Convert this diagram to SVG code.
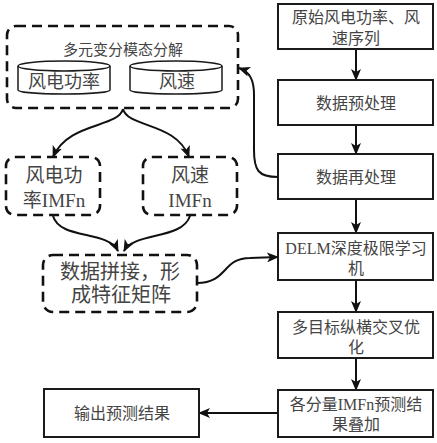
<svg xmlns="http://www.w3.org/2000/svg" width="437" height="443" viewBox="0 0 437 443">
<defs>
<style>
.box{fill:#fff;stroke:#1a1a1a;stroke-width:2}
.dbox{fill:none;stroke:#111;stroke-width:2.6;stroke-dasharray:10 6}
.cyl{fill:#fff;stroke:#1a1a1a;stroke-width:1.5}
.t{font-family:"Liberation Serif","Noto Sans CJK SC",serif;fill:#444;text-anchor:middle;dominant-baseline:central}
.conn{fill:none;stroke:#111;stroke-width:2}
</style>
<marker id="ah" viewBox="0 0 12 10" refX="11" refY="5" markerWidth="12" markerHeight="10" markerUnits="userSpaceOnUse" orient="auto">
<path d="M0,0 L12,5 L0,10 L3,5 z" fill="#111"/>
</marker>
</defs>
<rect width="437" height="443" fill="#fff"/>

<g id="connectors">
<path class="conn" d="M356,49 L356,80" marker-end="url(#ah)"/>
<path class="conn" d="M356,125 L356,154" marker-end="url(#ah)"/>
<path class="conn" d="M356,199 L356,233" marker-end="url(#ah)"/>
<path class="conn" d="M356,280 L356,312" marker-end="url(#ah)"/>
<path class="conn" d="M356,358 L356,390" marker-end="url(#ah)"/>
<path class="conn" d="M278,413 L199,413" marker-end="url(#ah)"/>
<path class="conn" d="M278,177 C258,177 254,170 254,150 L254,95 C254,80 250,72 239,68" marker-end="url(#ah)"/>
<path class="conn" d="M123,109 C118,128 68,122 53,157" marker-end="url(#ah)"/>
<path class="conn" d="M123,109 C128,128 176,122 189,157" marker-end="url(#ah)"/>
<path class="conn" d="M53,216 C60,240 108,230 118,251" marker-end="url(#ah)"/>
<path class="conn" d="M190,216 C182,240 134,232 124,251" marker-end="url(#ah)"/>
<path class="conn" d="M197,283 C228,283 222,258 250,258 L278,257" marker-end="url(#ah)"/>
</g>

<g id="vmd">
<rect class="dbox" x="7" y="26" width="231" height="82" rx="9"/>
<text class="t" x="123" y="50" font-size="15">多元变分模态分解</text>
</g>
<g id="cyl-power">
<path class="cyl" d="M18,66 L18,90 A46,4 0 0 0 110,90 L110,66"/>
<ellipse class="cyl" cx="64" cy="66" rx="46" ry="5"/>
<text class="t" x="64" y="82" font-size="18">风电功率</text>
</g>
<g id="cyl-speed">
<path class="cyl" d="M130,66 L130,90 A46,4 0 0 0 222,90 L222,66"/>
<ellipse class="cyl" cx="176" cy="66" rx="46" ry="5"/>
<text class="t" x="177" y="82" font-size="18">风速</text>
</g>

<g id="imf-power">
<rect class="dbox" x="6" y="157" width="94" height="58" rx="9"/>
<text class="t" x="54" y="175" font-size="19">风电功</text>
<text class="t" x="54" y="200" font-size="19">率IMFn</text>
</g>
<g id="imf-speed">
<rect class="dbox" x="143" y="157" width="94" height="58" rx="9"/>
<text class="t" x="190" y="175" font-size="19">风速</text>
<text class="t" x="190" y="200" font-size="19">IMFn</text>
</g>
<g id="concat">
<rect class="dbox" x="43" y="255" width="154" height="57" rx="10"/>
<text class="t" x="120" y="272" font-size="20">数据拼接，形</text>
<text class="t" x="121" y="295" font-size="20">成特征矩阵</text>
</g>

<g id="raw">
<rect class="box" x="278" y="4" width="155" height="45"/>
<text class="t" x="356" y="17" font-size="16">原始风电功率、风</text>
<text class="t" x="356" y="38" font-size="16">速序列</text>
</g>
<g id="pre">
<rect class="box" x="278" y="80" width="155" height="45"/>
<text class="t" x="356" y="103" font-size="16">数据预处理</text>
</g>
<g id="re">
<rect class="box" x="278" y="154" width="155" height="45"/>
<text class="t" x="356" y="177" font-size="16">数据再处理</text>
</g>
<g id="delm">
<rect class="box" x="278" y="233" width="155" height="47"/>
<text class="t" x="356" y="248" font-size="16">DELM深度极限学习</text>
<text class="t" x="356" y="268" font-size="16">机</text>
</g>
<g id="opt">
<rect class="box" x="278" y="312" width="155" height="46"/>
<text class="t" x="356" y="327" font-size="16">多目标纵横交叉优</text>
<text class="t" x="356" y="347" font-size="16">化</text>
</g>
<g id="sum">
<rect class="box" x="278" y="390" width="155" height="47"/>
<text class="t" x="356" y="404" font-size="16">各分量IMFn预测结</text>
<text class="t" x="356" y="424" font-size="16">果叠加</text>
</g>
<g id="output">
<rect class="box" x="44" y="389" width="155" height="48"/>
<text class="t" x="122" y="413" font-size="16">输出预测结果</text>
</g>
</svg>
